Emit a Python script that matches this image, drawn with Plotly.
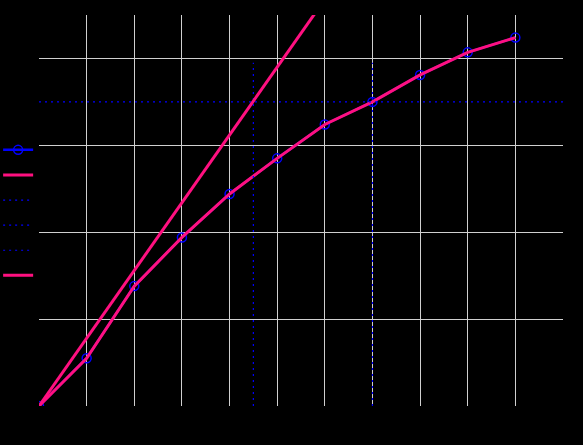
import plotly.graph_objects as go

# measured values (workers vs. speedup)
workers = [0, 1, 2, 3, 4, 5, 6, 7, 8, 9, 10]
speedup = [0, 0.55, 1.38, 1.94, 2.44, 2.85, 3.24, 3.5, 3.81, 4.07, 4.24]
# ideal scaling line
ideal_x = [0, 6]
ideal_y = [0, 4.68]
# reference levels
level_x = [0, 11]
level_y = [3.5, 3.5]
mark_a_x = [4.5, 4.5]
mark_b_x = [7, 7]
mark_y = [0, 3.95]

x_ticks = [1, 2, 3, 4, 5, 6, 7, 8, 9, 10]
y_ticks = [1, 2, 3, 4]

pink = '#ff1080'
blue = '#0000ff'
dots = '2px,4px'

fig = go.Figure()
# legend labels are black on black in the original, so keep them empty
fig.add_trace(go.Scatter(x=workers, y=speedup, mode='lines+markers', name='', showlegend=True,
                         line=dict(color=blue, width=2.5),
                         marker=dict(symbol='circle-open', size=9, color=blue, line=dict(width=1.5, color=blue))))
fig.add_trace(go.Scatter(x=workers, y=speedup, mode='lines', name='', showlegend=True,
                         line=dict(color=pink, width=3)))
fig.add_trace(go.Scatter(x=level_x, y=level_y, mode='lines', name='', showlegend=True,
                         line=dict(color=blue, width=1.2, dash=dots)))
fig.add_trace(go.Scatter(x=mark_a_x, y=mark_y, mode='lines', name='', showlegend=True,
                         line=dict(color=blue, width=1.2, dash=dots)))
fig.add_trace(go.Scatter(x=mark_b_x, y=mark_y, mode='lines', name='', showlegend=True,
                         line=dict(color=blue, width=1.2, dash=dots)))
fig.add_trace(go.Scatter(x=ideal_x, y=ideal_y, mode='lines', name='', showlegend=True,
                         line=dict(color=pink, width=3)))

fig.update_xaxes(range=[0, 11], tickvals=x_ticks, showticklabels=False, showgrid=True,
                 gridcolor='#d0d0d0', gridwidth=1, zeroline=False, showline=False, ticks='')
fig.update_yaxes(range=[0, 4.5], tickvals=y_ticks, showticklabels=False, showgrid=True,
                 gridcolor='#d0d0d0', gridwidth=1, zeroline=False, showline=False, ticks='')
fig.update_layout(
    width=583, height=445,
    paper_bgcolor='black', plot_bgcolor='black',
    font=dict(family='DejaVu Sans', color='black'),
    margin=dict(l=39, r=20, t=15, b=39, autoexpand=False),
    legend=dict(x=-0.078, y=0.70, xanchor='left', yanchor='top', font=dict(size=17, color='black'),
                bgcolor='rgba(0,0,0,0)', borderwidth=0, traceorder='normal'),
)

fig.write_html("out.html", config={'displayModeBar': False},
               post_script="document.body.style.margin = '0px';")
